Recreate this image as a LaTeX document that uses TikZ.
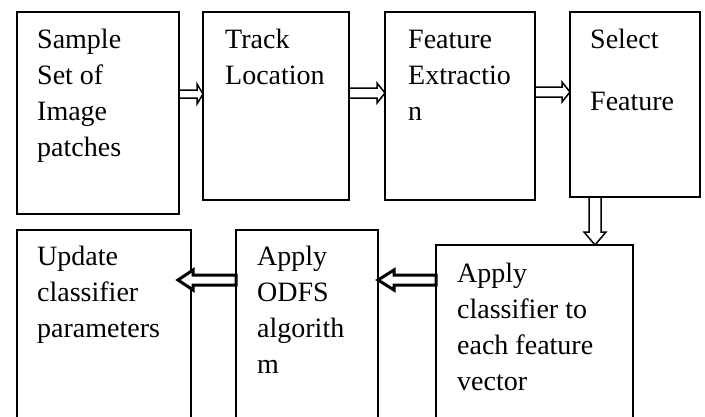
\documentclass[tikz,border=0pt]{standalone}
\usepackage{fontspec}
\setmainfont{Liberation Serif}
\usetikzlibrary{calc}

\tikzset{
  stage/.style={draw, rectangle, line width=1.5pt, inner sep=0pt, outer sep=0pt, anchor=north west},
  % base sits on the last line of a label
  stagetext/.style={anchor=base west, align=left, inner sep=0pt, font=\fontsize{28}{36}\selectfont},
  flowarrow/.style={draw, fill=white, line width=1.5pt, line join=miter},
  boldarrow/.style={flowarrow, line width=3pt},
}

% hollow block arrow: [style]{start}{tip}{shaft half width}{head half width}{head length}
\newcommand{\hollowarrow}[6][]{%
  \draw[flowarrow,#1] ($(#2)!#4!90:(#3)$) -- ($(#3)!#6!(#2)!#4!90:(#3)$)
    -- ($(#3)!#6!(#2)!#5!90:(#3)$) -- (#3)
    -- ($(#3)!#6!(#2)!#5!-90:(#3)$) -- ($(#3)!#6!(#2)!#4!-90:(#3)$)
    -- ($(#2)!#4!-90:(#3)$) -- cycle;%
}

\begin{document}
\begin{tikzpicture}[x=1pt,y=-1pt]
  \useasboundingbox (0,0) rectangle (705,416);
  \clip (0,0) rectangle (705,416);

  % first row
  \node[stage, minimum width=162pt, minimum height=202pt] (sample) at (17,12) {};
  \node[stage, minimum width=146pt, minimum height=188pt] (track) at (203,12) {};
  \node[stage, minimum width=150pt, minimum height=188pt] (extract) at (385,12) {};
  \node[stage, minimum width=130pt, minimum height=185pt] (select) at (570,12) {};

  % second row, running off the bottom
  \node[stage, minimum width=197pt, minimum height=220pt] (classify) at (436,245) {};
  \node[stage, minimum width=142pt, minimum height=220pt] (odfs) at (236,230) {};
  \node[stage, minimum width=174pt, minimum height=220pt] (update) at (17,230) {};

  \node[stagetext] (sampletext) at ($(sample.north west)+(20,144)$) {Sample\\Set of\\Image\\patches};
  \node[stagetext] (tracktext) at ($(track.north west)+(22,72)$) {Track\\Location};
  \node[stagetext] (extracttext) at ($(extract.north west)+(23,108)$) {Feature\\Extractio\\n};
  \node[stagetext] (selecttext) at ($(select.north west)+(20,98)$) {Select\\[26pt]Feature};
  \node[stagetext] (updatetext) at ($(update.north west)+(20,107)$) {Update\\classifier\\parameters};
  \node[stagetext] (odfstext) at ($(odfs.north west)+(21,143)$) {Apply\\ODFS\\algorith\\m};
  \node[stagetext] (classifytext) at ($(classify.north west)+(21,145)$) {Apply\\classifier to\\each feature\\vector};

  % arrow ends
  \coordinate (s1) at (sample.east |- 0,94);
  \coordinate (t1) at (track.west |- 0,94);
  \coordinate (s2) at (track.east |- 0,93);
  \coordinate (t2) at (extract.west |- 0,93);
  \coordinate (s3) at (extract.east |- 0,92);
  \coordinate (t3) at (select.west |- 0,92);
  \coordinate (s4) at (select.south -| 595,0);
  \coordinate (t4) at (classify.north -| 595,0);
  \coordinate (s5) at (classify.west |- 0,280);
  \coordinate (t5) at (odfs.east |- 0,280);
  \coordinate (s6) at (odfs.west |- 0,280);
  \coordinate (t6) at (update.east |- 0,280);

  \hollowarrow{s1}{t1}{4pt}{10pt}{6pt}
  \hollowarrow{s2}{t2}{5pt}{10pt}{8pt}
  \hollowarrow{s3}{t3}{5pt}{10pt}{8pt}
  \hollowarrow{s4}{t4}{6pt}{11pt}{13pt}
  \hollowarrow[boldarrow]{s5}{t5}{5pt}{10pt}{16pt}
  \hollowarrow[boldarrow]{s6}{[xshift=-13pt]t6}{5pt}{10pt}{15pt}
\end{tikzpicture}
\end{document}
